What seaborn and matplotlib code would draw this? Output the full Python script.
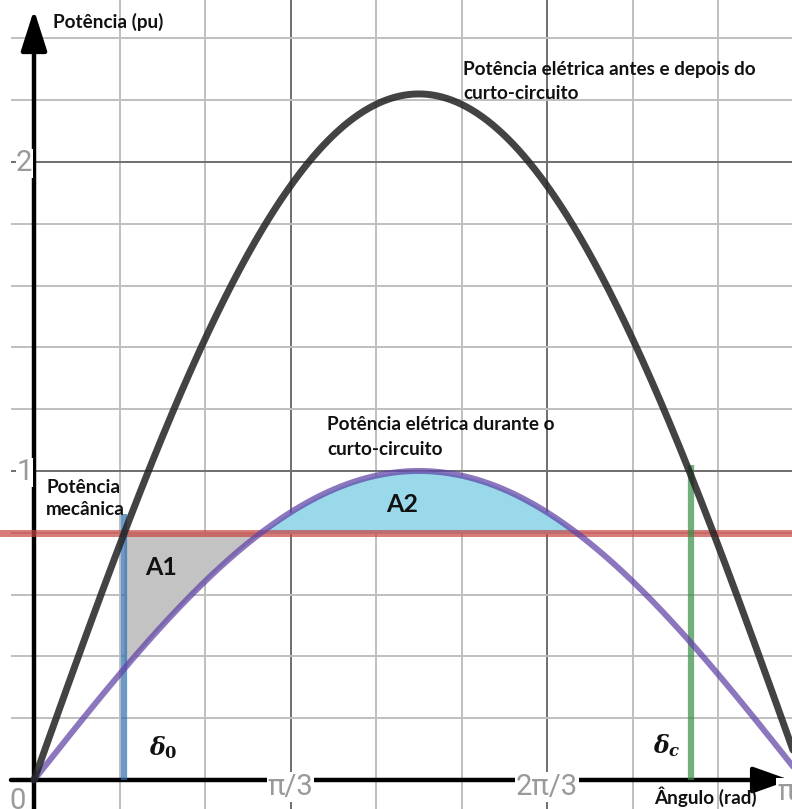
import numpy as np
import pandas as pd
import matplotlib
matplotlib.use("Agg")
import matplotlib.pyplot as plt
import seaborn as sns

# ---------------- data ----------------
p_max_normal = 2.22      # pu, electrical power before/after the short circuit
p_max_fault = 1.0        # pu, electrical power during the short circuit
p_mech = 0.8             # pu, mechanical power
delta_0 = 0.367          # rad, initial angle
delta_c = 2.68           # rad, clearing angle
delta_0_top = 0.86
delta_c_top = 1.02

x_tick_values = [np.pi / 3, 2 * np.pi / 3]
x_tick_labels = ["π/3", "2π/3"]
x_end_label = "π"
y_tick_values = [1, 2]
y_tick_labels = ["1", "2"]
x_grid = [k * np.pi / 9 for k in range(1, 9)]
y_grid = [round(0.2 * k, 1) for k in range(1, 13)]

delta = np.linspace(0, np.pi, 600)
df = pd.DataFrame({
    "delta": delta,
    "pre": p_max_normal * np.sin(delta),
    "fault": p_max_fault * np.sin(delta),
})

# ---------------- style ----------------
sns.set_theme(style="white")
plt.rcParams["font.family"] = ["Lato", "DejaVu Sans"]
plt.rcParams["mathtext.fontset"] = "custom"
plt.rcParams["mathtext.it"] = "DejaVu Serif:italic:bold"
plt.rcParams["mathtext.rm"] = "DejaVu Serif:bold"
plt.rcParams["mathtext.bf"] = "DejaVu Serif:bold"

fig = plt.figure(figsize=(7.92, 8.09), dpi=100)
ax = fig.add_axes([0, 0, 1, 1])
ax.set_xlim(-0.1388, 3.094)
ax.set_ylim(-0.0939, 2.524)
ax.set_axis_off()

# grid
for xg in x_grid:
    major = abs((xg / (np.pi / 3)) - round(xg / (np.pi / 3))) < 1e-6
    ax.axvline(xg, color="#6f6f6f" if major else "#bfbfbf", lw=1.4, zorder=0)
for yg in y_grid:
    major = abs(yg - round(yg)) < 1e-6
    ax.hlines(yg, -0.094, 3.2, color="#6f6f6f" if major else "#bfbfbf", lw=1.4, zorder=0)

# fills (areas A1 and A2)
ax.fill_between(df["delta"], df["fault"], p_mech,
                where=(df["delta"] >= delta_0) & (df["fault"] <= p_mech) & (df["delta"] < np.pi / 2),
                color="#c3c3c3", interpolate=True, lw=0, zorder=1)
ax.fill_between(df["delta"], df["fault"], p_mech,
                where=(df["fault"] >= p_mech),
                color="#99d9ea", interpolate=True, lw=0, zorder=1)

# axes with arrows
ax.annotate("", xy=(0, 2.492), xytext=(0, -0.1),
            arrowprops=dict(arrowstyle="-|>,head_length=1.0,head_width=0.32", lw=3.2,
                            color="black", shrinkA=0, shrinkB=0, mutation_scale=25), zorder=2)
ax.annotate("", xy=(3.086, 0), xytext=(-0.094, 0),
            arrowprops=dict(arrowstyle="-|>,head_length=0.9,head_width=0.32", lw=3.2,
                            color="black", shrinkA=0, shrinkB=0, mutation_scale=25), zorder=2)

# tick labels (white boxes break the axis and grid)
tick_kw = dict(fontsize=21, color="#9a9a9a", family=["Roboto", "DejaVu Sans"],
               ha="center", va="center", zorder=3, annotation_clip=False,
               bbox=dict(facecolor="white", edgecolor="none", pad=0.5))
for xv, lab in zip(x_tick_values, x_tick_labels):
    ax.annotate(lab, xy=(xv, 0), xytext=(0, -5), textcoords="offset points", **tick_kw)
ax.annotate(x_end_label, xy=(np.pi, 0), xytext=(-13, -9), textcoords="offset points", **tick_kw)
for yv, lab in zip(y_tick_values, y_tick_labels):
    ax.annotate(lab, xy=(0, yv), xytext=(-7, -1), textcoords="offset points", **tick_kw)
ax.annotate("0", xy=(0, 0), xytext=(-12, -15), textcoords="offset points", **tick_kw)

# mechanical power
ax.axhline(p_mech, color="#c74440", alpha=0.7, lw=5, zorder=4)

# delta lines
ax.vlines(delta_0, 0, delta_0_top, color="#2d70b3", alpha=0.7, lw=4.5, zorder=4)
ax.vlines(delta_c, 0, delta_c_top, color="#388c46", alpha=0.7, lw=4.5, zorder=4)

# power-angle curves
sns.lineplot(data=df, x="delta", y="fault", ax=ax, color="#6042a6", alpha=0.72, lw=4.3,
             zorder=5, legend=False)
sns.lineplot(data=df, x="delta", y="pre", ax=ax, color="#222222", alpha=0.85, lw=5,
             zorder=6, legend=False)
ax.set_axis_off()

# annotations
txt_kw = dict(fontsize=13.6, fontweight="bold", color="#111111", va="center", ha="left", zorder=7)
ax.text(0.0776, 2.453, "Potência (pu)", **txt_kw)
ax.text(1.751, 2.298, "Potência elétrica antes e depois do", **txt_kw)
ax.text(1.751, 2.223, "curto-circuito", **txt_kw)
ax.text(1.196, 1.149, "Potência elétrica durante o", **txt_kw)
ax.text(1.196, 1.068, "curto-circuito", **txt_kw)
ax.text(0.049, 0.948, "Potência", **txt_kw)
ax.text(0.049, 0.874, "mecânica", **txt_kw)
ax.text(0.518, 0.689, "A1", fontsize=18, fontweight="bold", color="#111111",
        ha="center", va="center", zorder=7)
ax.text(1.502, 0.890, "A2", fontsize=18, fontweight="bold", color="#111111",
        ha="center", va="center", zorder=7)
ax.text(0.527, 0.104, r"$\delta_0$", fontsize=17, color="#111111",
        ha="center", va="center", zorder=7)
ax.text(2.584, 0.113, r"$\delta_c$", fontsize=17, color="#111111",
        ha="center", va="center", zorder=7)
ax.text(2.739, -0.055, "Ângulo (rad)", fontsize=13.6, fontweight="bold", color="#111111",
        ha="center", va="center", zorder=7)

fig.savefig("out.png", dpi=100)
